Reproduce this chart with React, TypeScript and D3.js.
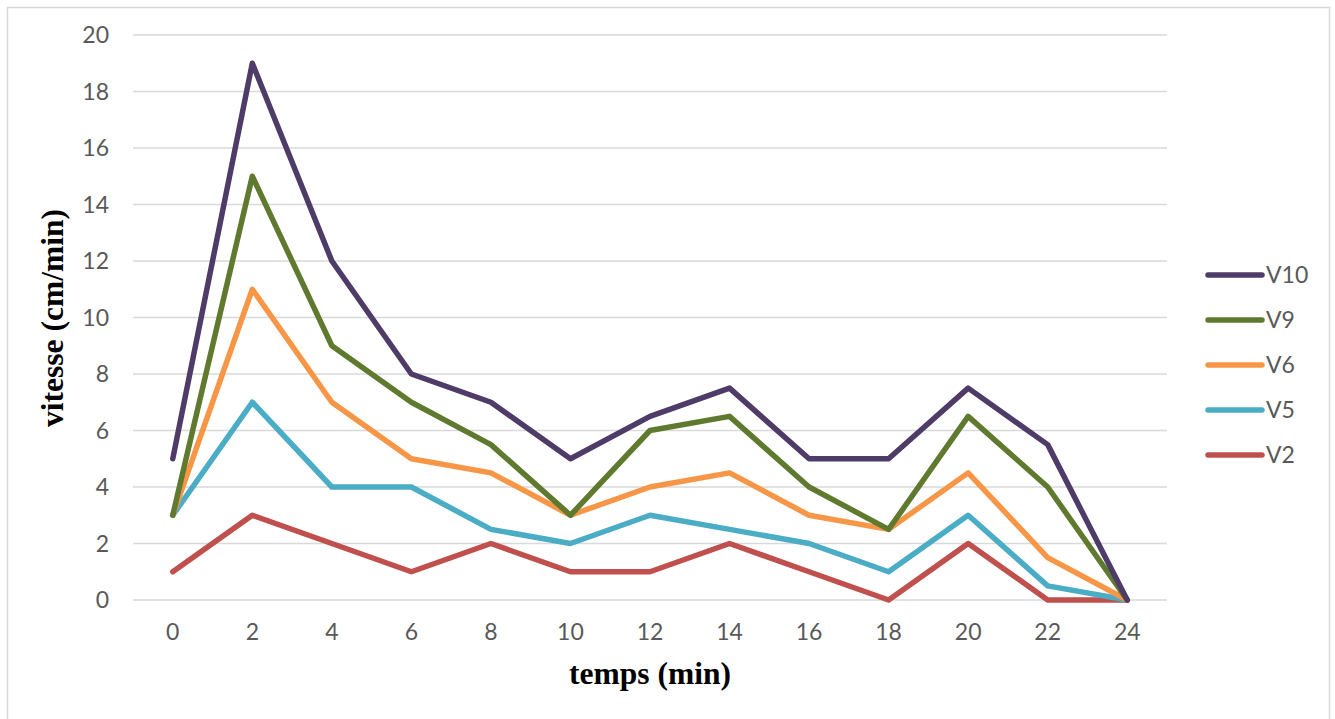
import React from 'react';
import * as d3 from 'd3';

const temps = ['0', '2', '4', '6', '8', '10', '12', '14', '16', '18', '20', '22', '24'];
const v2 = [1, 3, 2, 1, 2, 1, 1, 2, 1, 0, 2, 0, 0];
const v5 = [3, 7, 4, 4, 2.5, 2, 3, 2.5, 2, 1, 3, 0.5, 0];
const v6 = [3, 11, 7, 5, 4.5, 3, 4, 4.5, 3, 2.5, 4.5, 1.5, 0];
const v9 = [3, 15, 9, 7, 5.5, 3, 6, 6.5, 4, 2.5, 6.5, 4, 0];
const v10 = [5, 19, 12, 8, 7, 5, 6.5, 7.5, 5, 5, 7.5, 5.5, 0];
const yTicks = [0, 2, 4, 6, 8, 10, 12, 14, 16, 18, 20];

// drawn bottom-up so V10 ends on top
const series = [
  { name: 'V2', values: v2, color: '#C0504D' },
  { name: 'V5', values: v5, color: '#4BACC6' },
  { name: 'V6', values: v6, color: '#F79646' },
  { name: 'V9', values: v9, color: '#5F7A2E' },
  { name: 'V10', values: v10, color: '#4F3B67' },
];

const width = 1335;
const height = 719;
const plot = { left: 133, right: 1167, top: 35, bottom: 600 };
const tickFont = 'Lato, sans-serif';
const tickSize = 23;
const titleFont = '"Liberation Serif", "Times New Roman", serif';

export default function App() {
  const x = d3.scaleBand().domain(temps).range([plot.left, plot.right]).paddingInner(0);
  const cx = (t: string) => (x(t) as number) + x.bandwidth() / 2;
  const y = d3.scaleLinear().domain([0, 20]).range([plot.bottom, plot.top]);

  const line = d3.line<number>()
    .x((_, i) => cx(temps[i]))
    .y(d => y(d));

  const legendOrder = [...series].reverse();

  return (
    <svg width={width} height={height} style={{ position: 'absolute', left: 0, top: 0 }}>
      <rect x={0} y={0} width={width} height={height} fill="#fff" />
      <rect x={7.5} y={7.5} width={1322} height={730} fill="none" stroke="#d9d9d9" strokeWidth={1.5} />

      {/* grille */}
      {yTicks.map(t => (
        <line key={t} x1={plot.left} x2={plot.right} y1={y(t)} y2={y(t)} stroke="#d9d9d9" strokeWidth={1.3} />
      ))}

      {/* axe y */}
      {yTicks.map(t => (
        <text key={t} x={109} y={y(t)} dy="0.35em" textAnchor="end" fontSize={tickSize}
          fontFamily={tickFont} fill="#595959">{t}</text>
      ))}

      {/* axe x */}
      {temps.map(t => (
        <text key={t} x={cx(t)} y={632} dy="0.35em" textAnchor="middle" fontSize={tickSize}
          fontFamily={tickFont} fill="#595959">{t}</text>
      ))}

      {/* courbes */}
      {series.map(s => (
        <path key={s.name} d={line(s.values) || ''} fill="none" stroke={s.color}
          strokeWidth={5.5} strokeLinejoin="round" strokeLinecap="round" />
      ))}

      {/* légende */}
      {legendOrder.map((s, i) => (
        <g key={s.name} transform={`translate(0,${275 + i * 45})`}>
          <line x1={1208} x2={1262} y1={0} y2={0} stroke={s.color} strokeWidth={5.5} strokeLinecap="round" />
          <text x={1266} y={0} dy="0.35em" fontSize={tickSize} fontFamily={tickFont} fill="#595959">{s.name}</text>
        </g>
      ))}

      {/* titres */}
      <text x={650} y={673} dy="0.35em" textAnchor="middle" fontSize={31.5} fontWeight="bold"
        fontFamily={titleFont} fill="#000">temps (min)</text>
      <text transform={`translate(52,318) rotate(-90)`} dy="0.35em" textAnchor="middle" fontSize={31.5}
        fontWeight="bold" fontFamily={titleFont} fill="#000">vitesse (cm/min)</text>
    </svg>
  );
}
